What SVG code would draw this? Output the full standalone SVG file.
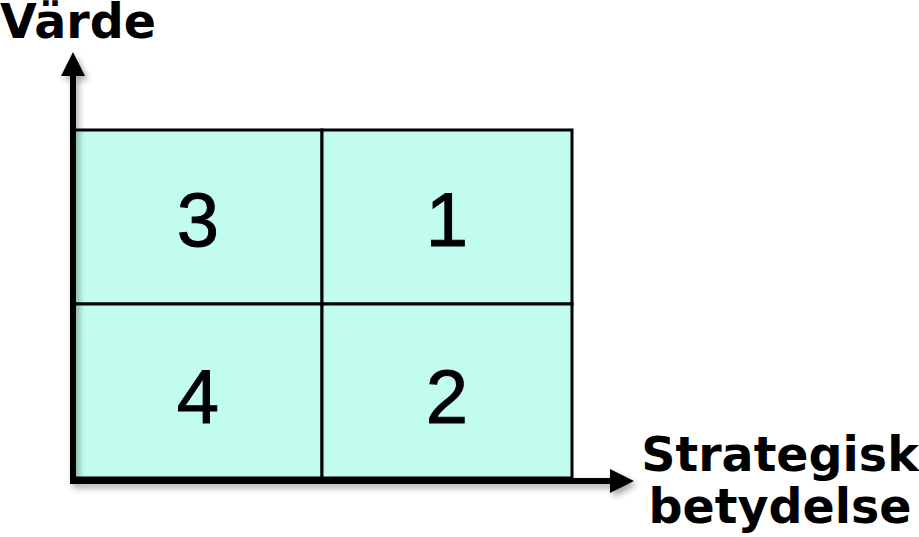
<svg xmlns="http://www.w3.org/2000/svg" width="919" height="537" viewBox="0 0 919 537">
<style>
.cell{fill:#c2fcee;stroke:#000;stroke-width:3}
.num{font-family:"Liberation Sans",Arial,sans-serif;font-size:76px;text-anchor:middle;fill:#000;stroke:#000;stroke-width:1}
.lbl{font-family:"DejaVu Sans",Verdana,sans-serif;font-weight:bold;fill:#000;font-size:47.5px}
.axis{stroke:#000;stroke-width:6;fill:none}
</style>
<defs>
<filter id="sh" x="-20%" y="-20%" width="140%" height="140%">
<feGaussianBlur in="SourceAlpha" stdDeviation="3"/>
<feOffset dx="3" dy="4" result="b"/>
<feComponentTransfer><feFuncA type="linear" slope="0.35"/></feComponentTransfer>
<feMerge><feMergeNode/><feMergeNode in="SourceGraphic"/></feMerge>
</filter>
</defs>
<g id="grid">
<rect class="cell" x="73" y="130" width="249" height="174"/>
<rect class="cell" x="322" y="130" width="250" height="174"/>
<rect class="cell" x="73" y="304" width="249" height="174"/>
<rect class="cell" x="322" y="304" width="250" height="174"/>
</g>
<g id="q3"><text class="num" x="198" y="246">3</text></g>
<g id="q1"><text class="num" x="447" y="246">1</text></g>
<g id="q4"><text class="num" x="198" y="423">4</text></g>
<g id="q2"><text class="num" x="447" y="423">2</text></g>
<g id="connectors" filter="url(#sh)">
<path class="axis" d="M73 481 V72"/>
<path d="M61 76 L73 52 L85 76 Z" fill="#000"/>
<path class="axis" d="M70 481 H614"/>
<path d="M610 469 L634 481 L610 493 Z" fill="#000"/>
</g>
<g id="ylabel"><text class="lbl" x="0" y="38">Värde</text></g>
<g id="xlabel">
<text class="lbl" x="780" y="471" text-anchor="middle">Strategisk</text>
<text class="lbl" x="780" y="523" text-anchor="middle">betydelse</text>
</g>
</svg>
